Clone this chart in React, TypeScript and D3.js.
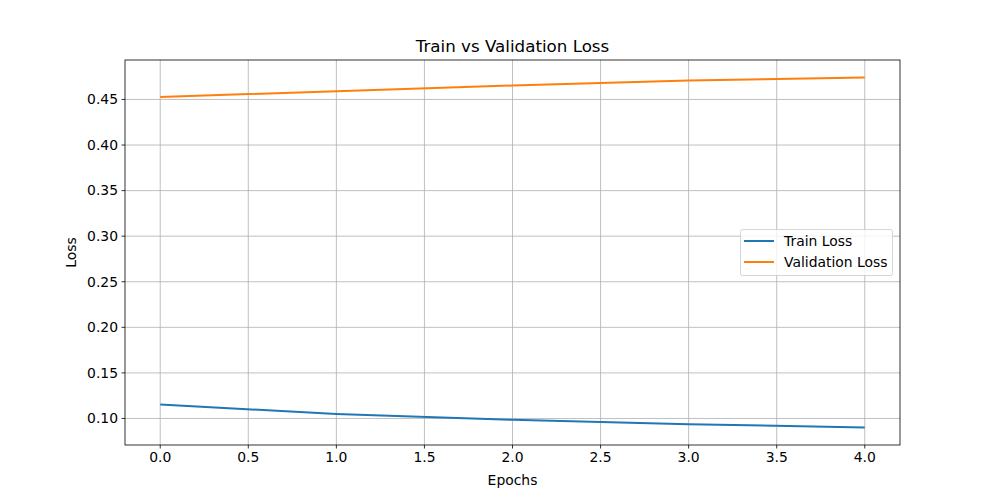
import React from "react";
import * as d3 from "d3";

const epochs = [0, 1, 2, 3, 4];
const trainLoss = [0.1153, 0.105, 0.0985, 0.0938, 0.0901];
const valLoss = [0.4528, 0.459, 0.4653, 0.4708, 0.4741];
const xTicks = [0, 0.5, 1, 1.5, 2, 2.5, 3, 3.5, 4];
const yTicks = [0.1, 0.15, 0.2, 0.25, 0.3, 0.35, 0.4, 0.45];

const W = 1000, H = 500;
const L = 125, R = 900, T = 60, B = 445;

export default function App() {
  const lo = Math.min(...trainLoss, ...valLoss);
  const hi = Math.max(...trainLoss, ...valLoss);
  const pad = (hi - lo) * 0.05;
  const x = d3.scaleLinear().domain([-0.2, 4.2]).range([L, R]);
  const y = d3.scaleLinear().domain([lo - pad, hi + pad]).range([B, T]);
  const line = d3.line<number>().x((_, i) => x(epochs[i])).y((d) => y(d));
  const font = "DejaVu Sans, sans-serif";
  return (
    <svg width={W} height={H} style={{ position: "absolute", left: 0, top: 0 }} fontFamily={font}>
      <rect width={W} height={H} fill="white" />
      {xTicks.map((t) => (
        <g key={"x" + t}>
          <line x1={x(t)} x2={x(t)} y1={T} y2={B} stroke="#b0b0b0" strokeWidth={0.8} />
          <line x1={x(t)} x2={x(t)} y1={B} y2={B + 3.5} stroke="black" strokeWidth={0.8} />
          <text x={x(t)} y={B + 17} fontSize={13.9} textAnchor="middle" fill="black">{t.toFixed(1)}</text>
        </g>
      ))}
      {yTicks.map((t) => (
        <g key={"y" + t}>
          <line x1={L} x2={R} y1={y(t)} y2={y(t)} stroke="#b0b0b0" strokeWidth={0.8} />
          <line x1={L - 3.5} x2={L} y1={y(t)} y2={y(t)} stroke="black" strokeWidth={0.8} />
          <text x={L - 7} y={y(t)} dy="0.35em" fontSize={13.9} textAnchor="end" fill="black">{t.toFixed(2)}</text>
        </g>
      ))}
      <path d={line(trainLoss) || ""} fill="none" stroke="#1f77b4" strokeWidth={2} />
      <path d={line(valLoss) || ""} fill="none" stroke="#ff7f0e" strokeWidth={2} />
      <rect x={L} y={T} width={R - L} height={B - T} fill="none" stroke="black" strokeWidth={0.8} />
      <text x={(L + R) / 2} y={T - 8} fontSize={16.7} textAnchor="middle" fill="black">Train vs Validation Loss</text>
      <text x={(L + R) / 2} y={485} fontSize={13.9} textAnchor="middle" fill="black">Epochs</text>
      <text transform={`translate(76,${(T + B) / 2}) rotate(-90)`} fontSize={13.9} textAnchor="middle" fill="black">Loss</text>
      <g>
        <rect x={740.5} y={229.5} width={152} height={46} rx={2} fill="white" fillOpacity={0.8} stroke="#cccccc" strokeWidth={0.8} />
        <line x1={744} x2={774} y1={241} y2={241} stroke="#1f77b4" strokeWidth={2} />
        <text x={784} y={241} dy="0.35em" fontSize={13.9} fill="black">Train Loss</text>
        <line x1={744} x2={774} y1={262} y2={262} stroke="#ff7f0e" strokeWidth={2} />
        <text x={784} y={262} dy="0.35em" fontSize={13.9} fill="black">Validation Loss</text>
      </g>
    </svg>
  );
}
